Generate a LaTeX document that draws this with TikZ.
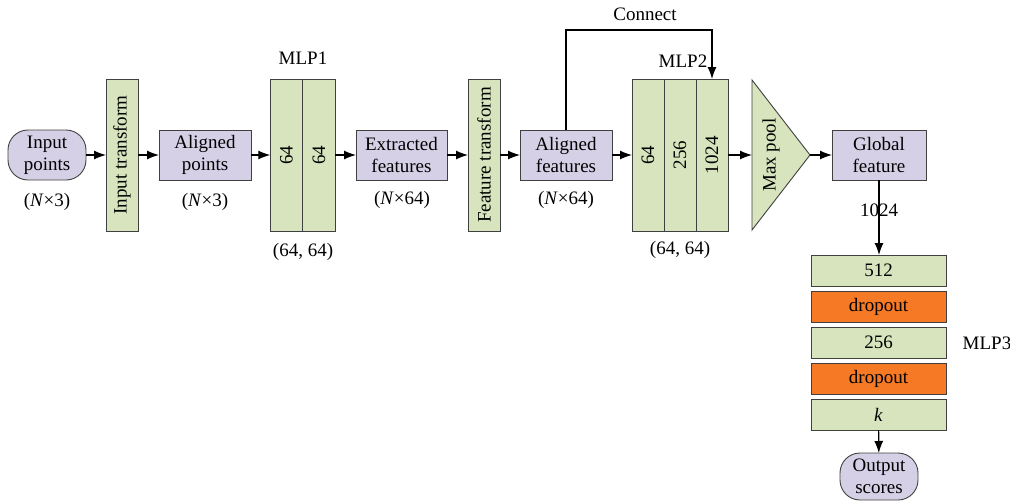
\documentclass[tikz,border=0pt]{standalone}
\usepackage{fontspec}
\setmainfont{LiberationSerif}[Extension=.ttf,UprightFont=*-Regular,ItalicFont=*-Italic,BoldFont=*-Bold,BoldItalicFont=*-BoldItalic]
\usetikzlibrary{arrows.meta,positioning}
\definecolor{boxgreen}{RGB}{215,228,189}
\definecolor{boxlilac}{RGB}{214,208,230}
\definecolor{boxorange}{RGB}{246,121,38}
\definecolor{edgegray}{RGB}{64,64,64}
\begin{document}
\begin{tikzpicture}[x=1pt,y=-1pt,
        font=\rmfamily\fontsize{19}{22}\selectfont,
        every node/.style={inner sep=0pt,outer sep=0pt},
        edge/.style={draw=edgegray,line width=0.9pt},
        data/.style={edge,fill=boxlilac,minimum width=92pt,minimum height=50pt,align=center},
        term/.style={data,rounded corners=20pt,minimum width=78pt},
        tall/.style={edge,fill=boxgreen,minimum width=32pt,minimum height=152pt},
        layer/.style={edge,fill=boxgreen,minimum width=135pt,minimum height=31pt},
        drop/.style={layer,fill=boxorange},
        arr/.style={-{Latex[length=12pt,width=9pt]},line width=1.2pt}]
    \useasboundingbox (0,0) rectangle (1010,501);
    % input side
    \node[term] (inpts) at (47,155) {Input\\points};
    \node[tall] (intf) at (122,155) {\rotatebox{90}{Input transform}};
    \node[data] (alpts) at (205,155) {Aligned\\points};
    \node[tall,minimum width=32.5pt] (m11) at (286.5,155) {\rotatebox{90}{64}};
    \node[tall,minimum width=32.5pt,right=0pt of m11] (m12) {\rotatebox{90}{64}};
    \node[data,minimum width=91pt] (exft) at (401.5,155) {Extracted\\features};
    \node[tall] (fttf) at (484,155) {\rotatebox{90}{Feature transform}};
    \node[data] (alft) at (566,155) {Aligned\\features};
    \node[tall] (m21) at (648,155) {\rotatebox{90}{64}};
    \node[tall,right=0pt of m21] (m22) {\rotatebox{90}{256}};
    \node[tall,right=0pt of m22] (m23) {\rotatebox{90}{1024}};
    % max pool
    \coordinate (pooltop) at (752,80);
    \coordinate (poolbot) at (752,230);
    \coordinate (pooltip) at (810,155);
    \draw[edge,fill=boxgreen] (pooltop) -- (pooltip) -- (poolbot) -- cycle;
    \node (pool) at (771,155) {\rotatebox{90}{Max pool}};
    \node[data,minimum width=94pt] (glft) at (879,155) {Global\\feature};
    % MLP3
    \node[layer] (fc1) at (878.5,270.5) {512};
    \node[drop,below=5pt of fc1] (dr1) {dropout};
    \node[layer,below=5pt of dr1] (fc2) {256};
    \node[drop,below=5pt of fc2] (dr2) {dropout};
    \node[layer,below=5pt of dr2] (fc3) {\textit{k}};
    \node[term,minimum height=47pt] (outsc) at (879,476.5) {Output\\scores};
    % labels
    \node (dim1) at (47,202) {(\textit{N}×3)};
    \node (dim2) at (205,202) {(\textit{N}×3)};
    \node (dim3) at (402,200) {(\textit{N}×64)};
    \node (dim4) at (566,200) {(\textit{N}×64)};
    \node (mlp1) at (303,58) {MLP1};
    \node (size1) at (303,252) {(64, 64)};
    \node (mlp2) at (683,61) {MLP2};
    \node (size2) at (680,250) {(64, 64)};
    \node (conn) at (645,14) {Connect};
    \node (mlp3) at (987,343) {MLP3};
    % arrows
    \draw[arr] (inpts) -- (intf);
    \draw[arr] (intf) -- (alpts);
    \draw[arr] (alpts) -- (m11);
    \draw[arr] (m12) -- (exft);
    \draw[arr] (exft) -- (fttf);
    \draw[arr] (fttf) -- (alft);
    \draw[arr] (alft) -- (m21);
    \draw[arr] (m23.east) -- (m23.east -| pooltop);
    \draw[arr] (pooltip) -- (glft);
    \draw[arr] (glft.south) -- node[pos=0.4] {1024} (glft.south |- fc1.north);
    \draw[arr] (fc3) -- (outsc);
    \draw[arr] (alft.north) |- ([yshift=49pt]m23.north) -- (m23.north);
\end{tikzpicture}
\end{document}
